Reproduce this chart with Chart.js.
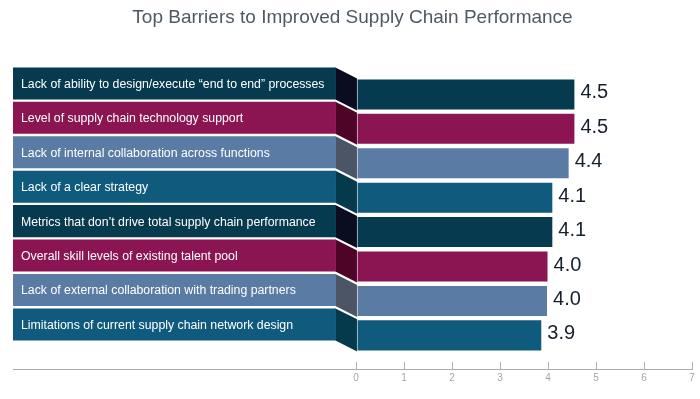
<!DOCTYPE html>
<html>
<head>
<meta charset="utf-8">
<script src="https://cdn.jsdelivr.net/npm/chart.js@4"></script>
<style>
  html, body { margin: 0; padding: 0; background: #fff; }
  #wrap { width: 700px; height: 399px; }
</style>
</head>
<body>
<div id="wrap"><canvas id="barriersChart"></canvas></div>
<script>
const ctx = document.getElementById('barriersChart');

//Prepare data
var barriers = ['Lack of ability to design/execute \u201Cend to end\u201D processes',
    'Level of supply chain technology support',
    'Lack of internal collaboration across functions',
    'Lack of a clear strategy',
    'Metrics that don\u2019t drive total supply chain performance',
    'Overall skill levels of existing talent pool',
    'Lack of external collaboration with trading partners',
    'Limitations of current supply chain network design'];
var scores = [4.57, 4.57, 4.45, 4.11, 4.11, 4.01, 4.0, 3.88]; // bar lengths as drawn
var scoreLabels = ['4.5', '4.5', '4.4', '4.1', '4.1', '4.0', '4.0', '3.9']; // printed values
var xTicks = [0, 1, 2, 3, 4, 5, 6, 7];

//Palette (bar face / side connector)
var faceColors = ['#063a4f', '#8b1553', '#5a7ba3', '#0f5a7d'];
var sideColors = ['#0a0c20', '#4e0426', '#4b5566', '#053a4c'];
var LABEL_BOX = [-7.15, -0.42]; // label panels live left of zero on the x scale

var face = barriers.map((b, i) => faceColors[i % 4]);
var side = barriers.map((b, i) => sideColors[i % 4]);

var FONT = "'Liberation Sans', Arial, Helvetica, sans-serif";
var rowTicks = scale => { scale.ticks = barriers.map((b, i) => ({value: i})); };

//Draws the slanted sides, the label texts and the values
const decorations = {
    id: 'decorations',
    beforeDatasetsDraw(chart) {
        const c = chart.ctx;
        const boxes = chart.getDatasetMeta(0).data;
        const bars = chart.getDatasetMeta(1).data;
        boxes.forEach((box, i) => {
            const bar = bars[i];
            const right = Math.max(box.x, box.base);
            const left = Math.min(bar.x, bar.base);
            c.save();
            c.fillStyle = side[i];
            c.beginPath();
            c.moveTo(right - 0.5, box.y - box.height / 2);
            c.lineTo(left + 0.5, bar.y - bar.height / 2);
            c.lineTo(left + 0.5, bar.y + bar.height / 2);
            c.lineTo(right - 0.5, box.y + box.height / 2);
            c.closePath();
            c.fill();
            c.restore();
        });
    },
    afterDatasetsDraw(chart) {
        const c = chart.ctx;
        const boxes = chart.getDatasetMeta(0).data;
        const bars = chart.getDatasetMeta(1).data;
        c.save();
        c.textBaseline = 'middle';
        c.textAlign = 'left';
        boxes.forEach((box, i) => {
            c.fillStyle = '#ffffff';
            c.font = '12.3px ' + FONT;
            c.fillText(barriers[i], Math.min(box.x, box.base) + 8, box.y + 1);
        });
        bars.forEach((bar, i) => {
            c.fillStyle = '#16202c';
            c.font = '20px ' + FONT;
            c.fillText(scoreLabels[i], Math.max(bar.x, bar.base) + 5, bar.y - 1.5);
        });
        // small tick marks sitting on top of the axis line
        const x = chart.scales.x;
        c.strokeStyle = '#a9adb8';
        c.lineWidth = 1;
        xTicks.forEach(v => {
            const px = Math.round(x.getPixelForValue(v)) + 0.5;
            c.beginPath();
            c.moveTo(px, x.top - 7);
            c.lineTo(px, x.top);
            c.stroke();
        });
        c.restore();
    }
};

//Create chart
new Chart(ctx, {
    type: 'bar',
    data: {
        datasets: [
            {
                label: 'Barrier',
                data: barriers.map((b, i) => ({x: LABEL_BOX, y: i})),
                backgroundColor: face,
                borderWidth: 0,
                grouped: false,
                barPercentage: 0.93,
                categoryPercentage: 1,
                yAxisID: 'yLabels'
            },
            {
                label: 'Score',
                data: scores.map((s, i) => ({x: s, y: i})),
                backgroundColor: face,
                borderColor: 'rgba(255,255,255,0.35)',
                borderWidth: 1,
                borderSkipped: false,
                grouped: false,
                barPercentage: 0.93,
                categoryPercentage: 1,
                yAxisID: 'y'
            }
        ]
    },
    options: {
        indexAxis: 'y',
        responsive: true,
        maintainAspectRatio: false,
        animation: false,
        layout: { padding: { left: 13, right: 8, top: 0, bottom: 12 } },
        plugins: {
            legend: { display: false },
            tooltip: { enabled: false },
            title: {
                display: true,
                text: 'Top Barriers to Improved Supply Chain Performance',
                color: '#4f5964',
                font: { family: FONT, size: 19, weight: 'normal' },
                padding: { top: 6, bottom: 10 }
            }
        },
        scales: {
            x: {
                type: 'linear',
                min: -7.15,
                max: 7,
                afterBuildTicks: scale => { scale.ticks = xTicks.map(v => ({value: v})); },
                grid: { display: true, drawOnChartArea: false, drawTicks: false },
                border: { display: true, color: '#a9adb8', width: 1 },
                ticks: {
                    color: '#a4a6b0',
                    padding: 3,
                    font: { family: FONT, size: 10 }
                }
            },
            y: {
                type: 'linear',
                reverse: true,
                offset: false,
                bounds: 'data',
                min: -1.616,
                max: 7.977,
                display: false,
                afterBuildTicks: rowTicks
            },
            yLabels: {
                type: 'linear',
                reverse: true,
                offset: false,
                bounds: 'data',
                min: -1.297,
                max: 8.296,
                display: false,
                afterBuildTicks: rowTicks
            }
        }
    },
    plugins: [decorations]
});
</script>
</body>
</html>
